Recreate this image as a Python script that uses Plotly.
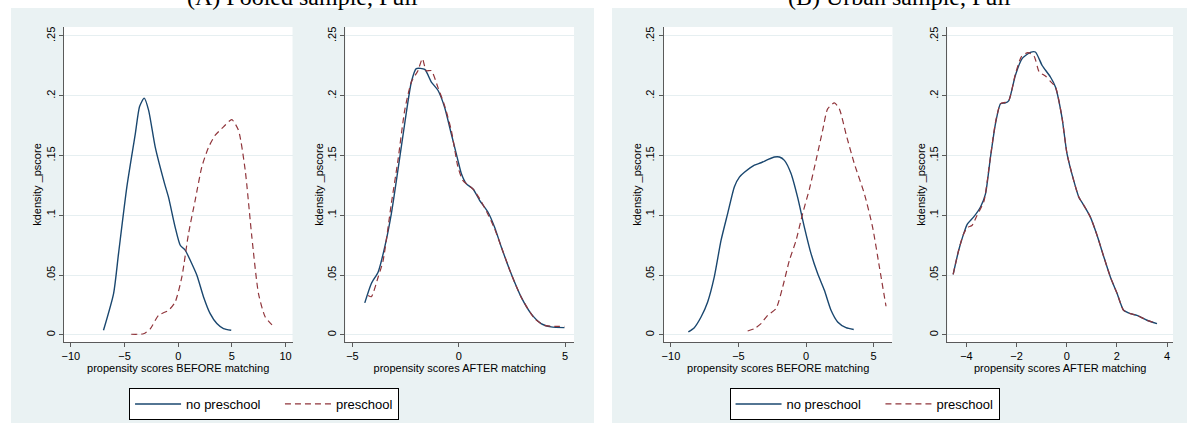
import plotly.graph_objects as go

W, H = 1187, 426

# ---------------- data ----------------
# Panel A, before matching
a_before_no_x = [-6.96, -6.02, -5.56, -4.78, -4.00, -3.60, -3.17, -2.76, -2.14, -1.27, -0.90, -0.28, 0.19, 0.65, 1.12, 1.74, 2.36, 2.98, 3.60, 4.22, 4.94]
a_before_no_y = [0.0039, 0.0346, 0.068, 0.124, 0.168, 0.191, 0.198, 0.188, 0.157, 0.1265, 0.115, 0.090, 0.075, 0.071, 0.0624, 0.0499, 0.0318, 0.0178, 0.0095, 0.0053, 0.0039]
a_before_pre_x = [-4.38, -3.23, -2.61, -1.83, -0.90, -0.28, 0.34, 0.96, 1.58, 2.20, 2.83, 3.45, 4.22, 4.99, 5.62, 6.24, 6.86, 7.48, 8.11, 8.88]
a_before_pre_y = [0.0006, 0.001, 0.005, 0.0164, 0.0206, 0.0276, 0.0485, 0.0847, 0.1126, 0.1405, 0.157, 0.167, 0.174, 0.180, 0.171, 0.138, 0.082, 0.0346, 0.015, 0.0072]

# Panel A, after matching
a_after_no_x = [-4.42, -4.11, -3.79, -3.48, -3.17, -2.86, -2.54, -2.23, -2.00, -1.60, -1.29, -0.98, -0.67, -0.35, -0.04, 0.12, 0.35, 0.67, 0.98, 1.37, 1.68, 2.00, 2.46, 2.93, 3.40, 3.87, 4.34, 4.97]
a_after_no_y = [0.0268, 0.043, 0.0527, 0.0736, 0.1015, 0.138, 0.177, 0.2115, 0.2227, 0.222, 0.2115, 0.2046, 0.1906, 0.168, 0.146, 0.135, 0.1265, 0.122, 0.1126, 0.1028, 0.0903, 0.0736, 0.0513, 0.0318, 0.0178, 0.0095, 0.0067, 0.0061]
a_after_pre_x = [-4.26, -4.11, -3.79, -3.56, -3.17, -2.86, -2.54, -2.23, -1.92, -1.71, -1.53, -1.29, -0.98, -0.67, -0.35, -0.04, 0.20, 0.67, 0.98, 1.37, 1.68, 2.00, 2.46, 2.93, 3.56, 4.03, 4.50, 4.97]
a_after_pre_y = [0.033, 0.032, 0.0485, 0.062, 0.110, 0.146, 0.188, 0.2115, 0.221, 0.231, 0.221, 0.221, 0.207, 0.192, 0.171, 0.1405, 0.129, 0.122, 0.114, 0.101, 0.089, 0.0736, 0.0513, 0.0318, 0.0137, 0.008, 0.0072, 0.0072]

# Panel B, before matching
b_before_no_x = [-8.71, -8.27, -7.77, -7.28, -6.79, -6.29, -5.80, -5.30, -4.93, -4.56, -3.82, -3.33, -2.84, -2.34, -1.97, -1.60, -1.11, -0.62, -0.12, 0.37, 0.86, 1.36, 1.85, 2.34, 2.96, 3.53]
b_before_no_y = [0.0025, 0.0061, 0.015, 0.0276, 0.0485, 0.079, 0.1015, 0.124, 0.132, 0.136, 0.142, 0.144, 0.1466, 0.1488, 0.1488, 0.146, 0.135, 0.115, 0.090, 0.068, 0.0513, 0.0373, 0.0206, 0.0109, 0.0061, 0.0045]
b_before_pre_x = [-4.32, -3.82, -3.33, -2.84, -2.22, -1.73, -1.23, -0.74, -0.25, 0.25, 0.74, 1.23, 1.60, 2.10, 2.47, 2.96, 3.58, 4.32, 4.93, 5.43, 5.92]
b_before_pre_y = [0.0033, 0.0053, 0.0095, 0.0164, 0.022, 0.040, 0.0624, 0.079, 0.1015, 0.122, 0.146, 0.171, 0.189, 0.194, 0.189, 0.168, 0.143, 0.118, 0.090, 0.0568, 0.024]

# Panel B, after matching
b_after_no_x = [-4.53, -4.31, -4.11, -3.97, -3.71, -3.44, -3.24, -3.04, -2.84, -2.64, -2.45, -2.31, -2.05, -1.78, -1.45, -1.25, -0.98, -0.65, -0.45, -0.19, 0.01, 0.28, 0.48, 0.68, 0.94, 1.21, 1.48, 1.74, 2.01, 2.27, 2.54, 2.80, 3.20, 3.60]
b_after_no_y = [0.0507, 0.0708, 0.0847, 0.0925, 0.0987, 0.107, 0.118, 0.149, 0.177, 0.1934, 0.194, 0.196, 0.217, 0.231, 0.2363, 0.2366, 0.2253, 0.2157, 0.2074, 0.182, 0.1516, 0.129, 0.1154, 0.1084, 0.0987, 0.0833, 0.0652, 0.0485, 0.0346, 0.0206, 0.0178, 0.0164, 0.0123, 0.0095]
b_after_pre_x = [-4.53, -4.31, -4.11, -3.95, -3.78, -3.60, -3.30, -3.10, -2.84, -2.64, -2.45, -2.31, -2.05, -1.80, -1.55, -1.30, -1.10, -0.85, -0.65, -0.45, -0.19, 0.01, 0.28, 0.48, 0.68, 0.94, 1.21, 1.48, 1.74, 2.01, 2.27, 2.54, 2.80, 3.20, 3.60]
b_after_pre_y = [0.0507, 0.0708, 0.0847, 0.090, 0.0915, 0.099, 0.112, 0.140, 0.178, 0.1934, 0.1945, 0.196, 0.218, 0.233, 0.236, 0.233, 0.220, 0.2165, 0.212, 0.2074, 0.182, 0.1516, 0.129, 0.1154, 0.1084, 0.0987, 0.0833, 0.0652, 0.0485, 0.0346, 0.0206, 0.0178, 0.0164, 0.0123, 0.0095]

y_tickvals = [0, 0.05, 0.1, 0.15, 0.2, 0.25]
y_ticktext = ["0", ".05", ".1", ".15", ".2", ".25"]
xticks_a_before = [-10, -5, 0, 5, 10]
xticks_a_after = [-5, 0, 5]
xticks_b_before = [-10, -5, 0, 5]
xticks_b_after = [-4, -2, 0, 2, 4]

series_names = ["no preschool", "preschool"]
panel_titles = ["(A) Pooled sample, Full", "(B) Urban sample, Full"]
x_title_before = "propensity scores BEFORE matching"
x_title_after = "propensity scores AFTER matching"
y_title = "kdensity _pscore"

# ---------------- styling ----------------
NAVY = "#1a476f"
MAROON = "#90353b"
PANEL_BG = "#eaf2f3"
GRID = "#e6eff1"
AXIS = "#5a5a5a"
FONT = "Liberation Sans, Arial, sans-serif"
NBSP = "\u00a0"

def px_x(p):
    return p / W

def px_y(p):
    return 1 - p / H

# subplot pixel boxes (left, right)
boxes = [(62, 291), (344, 573), (663, 892), (947, 1173)]
ytop, ybot = 27, 342
xranges = [[-10.65, 10.65], [-5.33, 5.42], [-10.52, 6.40], [-4.76, 4.24]]
xtickvals = [xticks_a_before, xticks_a_after, xticks_b_before, xticks_b_after]
xtitles = [x_title_before, x_title_after, x_title_before, x_title_after]

fig = go.Figure()

data_sets = [
    (a_before_no_x, a_before_no_y, a_before_pre_x, a_before_pre_y),
    (a_after_no_x, a_after_no_y, a_after_pre_x, a_after_pre_y),
    (b_before_no_x, b_before_no_y, b_before_pre_x, b_before_pre_y),
    (b_after_no_x, b_after_no_y, b_after_pre_x, b_after_pre_y),
]

for i, (nx, ny, prx, pry) in enumerate(data_sets):
    suffix = "" if i == 0 else str(i + 1)
    legend_id = "legend" if i < 2 else "legend2"
    show = i in (0, 2)
    fig.add_trace(go.Scatter(
        x=nx, y=ny, mode="lines", name=series_names[0] + NBSP * 4,
        line=dict(color=NAVY, width=1.4, shape="spline", smoothing=0.6),
        xaxis="x" + suffix, yaxis="y" + suffix,
        legend=legend_id, showlegend=show, hoverinfo="skip"))
    fig.add_trace(go.Scatter(
        x=prx, y=pry, mode="lines", name=series_names[1],
        line=dict(color=MAROON, width=1.2, dash="6px,4px", shape="spline", smoothing=0.6),
        xaxis="x" + suffix, yaxis="y" + suffix,
        legend=legend_id, showlegend=show, hoverinfo="skip"))

layout = dict(
    width=W, height=H,
    margin=dict(l=0, r=0, t=0, b=0),
    paper_bgcolor="white",
    plot_bgcolor="rgba(0,0,0,0)",
    font=dict(family=FONT, size=11, color="#000"),
)

shapes = [
    dict(type="rect", xref="paper", yref="paper", x0=px_x(9), x1=px_x(593), y0=px_y(423), y1=px_y(8),
         fillcolor=PANEL_BG, line=dict(width=0), layer="below"),
    dict(type="rect", xref="paper", yref="paper", x0=px_x(611), x1=px_x(1187), y0=px_y(423), y1=px_y(8),
         fillcolor=PANEL_BG, line=dict(width=0), layer="below"),
]

for i, (l, r) in enumerate(boxes):
    suffix = "" if i == 0 else str(i + 1)
    shapes.append(dict(type="rect", xref="paper", yref="paper", x0=px_x(l), x1=px_x(r),
                       y0=px_y(ybot), y1=px_y(ytop), fillcolor="white", line=dict(width=0), layer="below"))
    layout["xaxis" + suffix] = dict(
        domain=[px_x(l), px_x(r)], range=xranges[i], anchor="y" + suffix,
        tickvals=xtickvals[i], ticks="outside", ticklen=4, tickcolor=AXIS,
        showline=True, linecolor=AXIS, linewidth=1, showgrid=False, zeroline=False,
        tickfont=dict(size=11), title=dict(text=xtitles[i], font=dict(size=11), standoff=2),
        fixedrange=True)
    layout["yaxis" + suffix] = dict(
        domain=[px_y(ybot), px_y(ytop)], range=[-0.0059, 0.2575], anchor="x" + suffix,
        tickvals=y_tickvals, ticktext=y_ticktext, tickangle=-90,
        ticks="outside", ticklen=4, tickcolor=AXIS,
        showline=True, linecolor=AXIS, linewidth=1, showgrid=True, gridcolor=GRID, gridwidth=1,
        zeroline=False, tickfont=dict(size=11),
        title=dict(text=y_title, font=dict(size=11), standoff=0), fixedrange=True)

layout["shapes"] = shapes

legend_common = dict(
    orientation="h", bgcolor="white", bordercolor="black", borderwidth=1,
    font=dict(size=13, family=FONT), xanchor="center", yanchor="middle",
    itemwidth=46,
    y=px_y(404), traceorder="normal", itemclick=False, itemdoubleclick=False)
layout["legend"] = dict(legend_common, x=px_x(262.5))
layout["legend2"] = dict(legend_common, x=px_x(864))

layout["annotations"] = [
    dict(text=panel_titles[0], xref="paper", yref="paper", x=px_x(301), y=px_y(12),
         xanchor="center", yanchor="bottom", showarrow=False,
         font=dict(family="Liberation Serif, Times New Roman, serif", size=24, color="black")),
    dict(text=panel_titles[1], xref="paper", yref="paper", x=px_x(899), y=px_y(12),
         xanchor="center", yanchor="bottom", showarrow=False,
         font=dict(family="Liberation Serif, Times New Roman, serif", size=24, color="black")),
]

fig.update_layout(**layout)
fig.write_html("out.html")
